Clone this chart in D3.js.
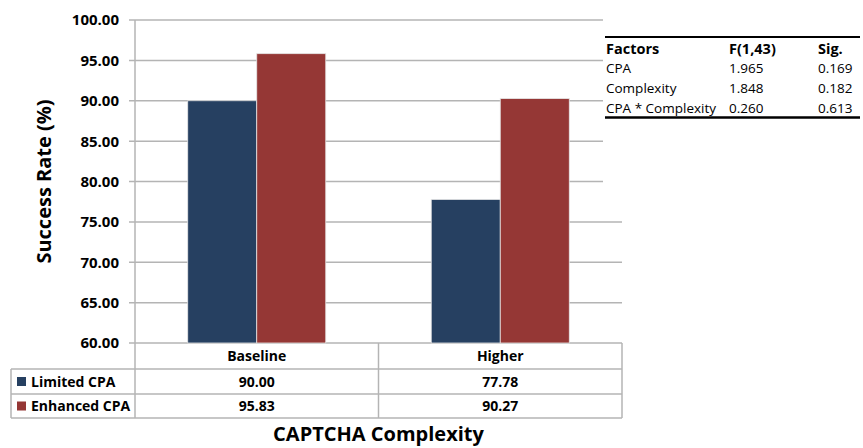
<!DOCTYPE html>
<html>
<head>
<meta charset="utf-8">
<script src="https://cdn.jsdelivr.net/npm/d3@7"></script>
<style>
  html, body { margin: 0; padding: 0; background: #fff; }
  svg { display: block; }
  text { font-family: "Open Sans", sans-serif; fill: #000; }
</style>
</head>
<body>
<svg id="chart" width="863" height="448"></svg>
<script>
// Success rate by CAPTCHA complexity and CPA condition
const categories = ["Baseline", "Higher"];
const seriesNames = ["Limited CPA", "Enhanced CPA"];
const limitedCPA = [90.00, 77.78];
const enhancedCPA = [95.83, 90.27];
const yTickValues = [60, 65, 70, 75, 80, 85, 90, 95, 100];

// Two-way ANOVA summary
const anovaHeader = ["Factors", "F(1,43)", "Sig."];
const anovaFactors = ["CPA", "Complexity", "CPA * Complexity"];
const anovaF = ["1.965", "1.848", "0.260"];
const anovaSig = ["0.169", "0.182", "0.613"];

const seriesValues = [limitedCPA, enhancedCPA];
const colors = ["#264061", "#953735"];
const gridColor = "#b4b4b4";

const svg = d3.select("#chart");

const plot = { left: 135, right: 622, top: 20, bottom: 343 };
const tableRows = { header: 343, row1: 369, row2: 394, bottom: 418 };
const tableLeft = 11;

const y = d3.scaleLinear().domain([60, 100]).range([plot.bottom, plot.top]);
const x0 = d3.scaleBand().domain(categories).range([plot.left, plot.right]).paddingInner(0).paddingOuter(0);
const x1 = d3.scaleBand().domain(seriesNames).range([0, x0.bandwidth()]).paddingInner(0).paddingOuter(0.764);

// Gridlines with small outside ticks
svg.append("g").selectAll("line")
  .data(yTickValues)
  .join("line")
  .attr("x1", plot.left - 6)
  .attr("x2", plot.right)
  .attr("y1", d => y(d))
  .attr("y2", d => y(d))
  .attr("stroke", gridColor)
  .attr("stroke-width", 1.5);

// Bars
const groups = svg.append("g").selectAll("g")
  .data(categories)
  .join("g")
  .attr("transform", d => `translate(${x0(d)},0)`);

groups.selectAll("rect")
  .data((c, i) => seriesNames.map((s, j) => ({ s, v: seriesValues[j][i], j })))
  .join("rect")
  .attr("x", d => x1(d.s))
  .attr("width", x1.bandwidth())
  .attr("y", d => y(d.v))
  .attr("height", d => y(60) - y(d.v))
  .attr("fill", d => colors[d.j])
  .attr("stroke", "#e6e6e6")
  .attr("stroke-width", 0.8);

// ANOVA panel sits on a white backing over the upper right gridlines
svg.append("rect")
  .attr("x", 603).attr("y", 0)
  .attr("width", 260).attr("height", 200)
  .attr("fill", "#fff");

const anova = svg.append("g");
const colX = [606, 729, 818];
const headBase = 54;
const rowBase = [73, 93, 113];
anova.append("line")
  .attr("x1", 605).attr("x2", 860)
  .attr("y1", 37).attr("y2", 37)
  .attr("stroke", "#000").attr("stroke-width", 2);
anova.append("line")
  .attr("x1", 605).attr("x2", 860)
  .attr("y1", 117.5).attr("y2", 117.5)
  .attr("stroke", "#000").attr("stroke-width", 2.5);
anova.selectAll("text.head")
  .data(anovaHeader)
  .join("text")
  .attr("class", "head")
  .attr("x", (d, i) => colX[i])
  .attr("y", headBase)
  .attr("font-size", 14.5)
  .attr("font-weight", "bold")
  .text(d => d);
[anovaFactors, anovaF, anovaSig].forEach((col, ci) => {
  anova.append("g").selectAll("text")
    .data(col)
    .join("text")
    .attr("x", colX[ci])
    .attr("y", (d, i) => rowBase[i])
    .attr("font-size", 13.5)
    .text(d => d);
});

// Y axis line (continues down through the data table)
svg.append("line")
  .attr("x1", plot.left).attr("x2", plot.left)
  .attr("y1", plot.top).attr("y2", tableRows.bottom)
  .attr("stroke", gridColor).attr("stroke-width", 1.5);

// Y tick labels
svg.append("g").selectAll("text")
  .data(yTickValues)
  .join("text")
  .attr("x", 119)
  .attr("y", d => y(d))
  .attr("dy", "0.36em")
  .attr("text-anchor", "end")
  .attr("font-size", 15)
  .attr("font-weight", "bold")
  .text(d => d3.format(".2f")(d));

// Data table beneath the plot
const tbl = svg.append("g").attr("stroke", gridColor).attr("stroke-width", 1.5);
[tableRows.row1, tableRows.row2, tableRows.bottom].forEach(yy => {
  tbl.append("line").attr("x1", tableLeft).attr("x2", plot.right).attr("y1", yy).attr("y2", yy);
});
tbl.append("line").attr("x1", tableLeft).attr("x2", tableLeft).attr("y1", tableRows.row1).attr("y2", tableRows.bottom);
tbl.append("line").attr("x1", plot.right).attr("x2", plot.right).attr("y1", tableRows.header).attr("y2", tableRows.bottom);
categories.slice(1).forEach(c => {
  tbl.append("line").attr("x1", x0(c)).attr("x2", x0(c)).attr("y1", tableRows.header).attr("y2", tableRows.bottom);
});

// Category headers
svg.append("g").selectAll("text")
  .data(categories)
  .join("text")
  .attr("x", d => x0(d) + x0.bandwidth() / 2)
  .attr("y", (tableRows.header + tableRows.row1) / 2)
  .attr("dy", "0.36em")
  .attr("text-anchor", "middle")
  .attr("font-size", 14)
  .attr("font-weight", "bold")
  .text(d => d);

// Value rows with legend keys
const rowTops = [tableRows.row1, tableRows.row2];
const rowBottoms = [tableRows.row2, tableRows.bottom];
seriesNames.forEach((s, j) => {
  const mid = (rowTops[j] + rowBottoms[j]) / 2;
  svg.append("rect")
    .attr("x", 17).attr("y", mid - 4.5)
    .attr("width", 9).attr("height", 9)
    .attr("fill", colors[j]);
  svg.append("text")
    .attr("x", 31).attr("y", mid)
    .attr("dy", "0.36em")
    .attr("font-size", 14)
    .attr("font-weight", "bold")
    .text(s);
  svg.append("g").selectAll("text")
    .data(categories)
    .join("text")
    .attr("x", d => x0(d) + x0.bandwidth() / 2)
    .attr("y", mid)
    .attr("dy", "0.36em")
    .attr("text-anchor", "middle")
    .attr("font-size", 14)
    .attr("font-weight", "bold")
    .text((d, i) => d3.format(".2f")(seriesValues[j][i]));
});

// Axis titles
svg.append("text")
  .attr("transform", `translate(51,${(plot.top + plot.bottom) / 2}) rotate(-90)`)
  .attr("text-anchor", "middle")
  .attr("font-size", 20)
  .attr("font-weight", "bold")
  .text("Success Rate (%)");

svg.append("text")
  .attr("x", (plot.left + plot.right) / 2)
  .attr("y", 441)
  .attr("text-anchor", "middle")
  .attr("font-size", 20)
  .attr("font-weight", "bold")
  .text("CAPTCHA Complexity");
</script>
</body>
</html>
